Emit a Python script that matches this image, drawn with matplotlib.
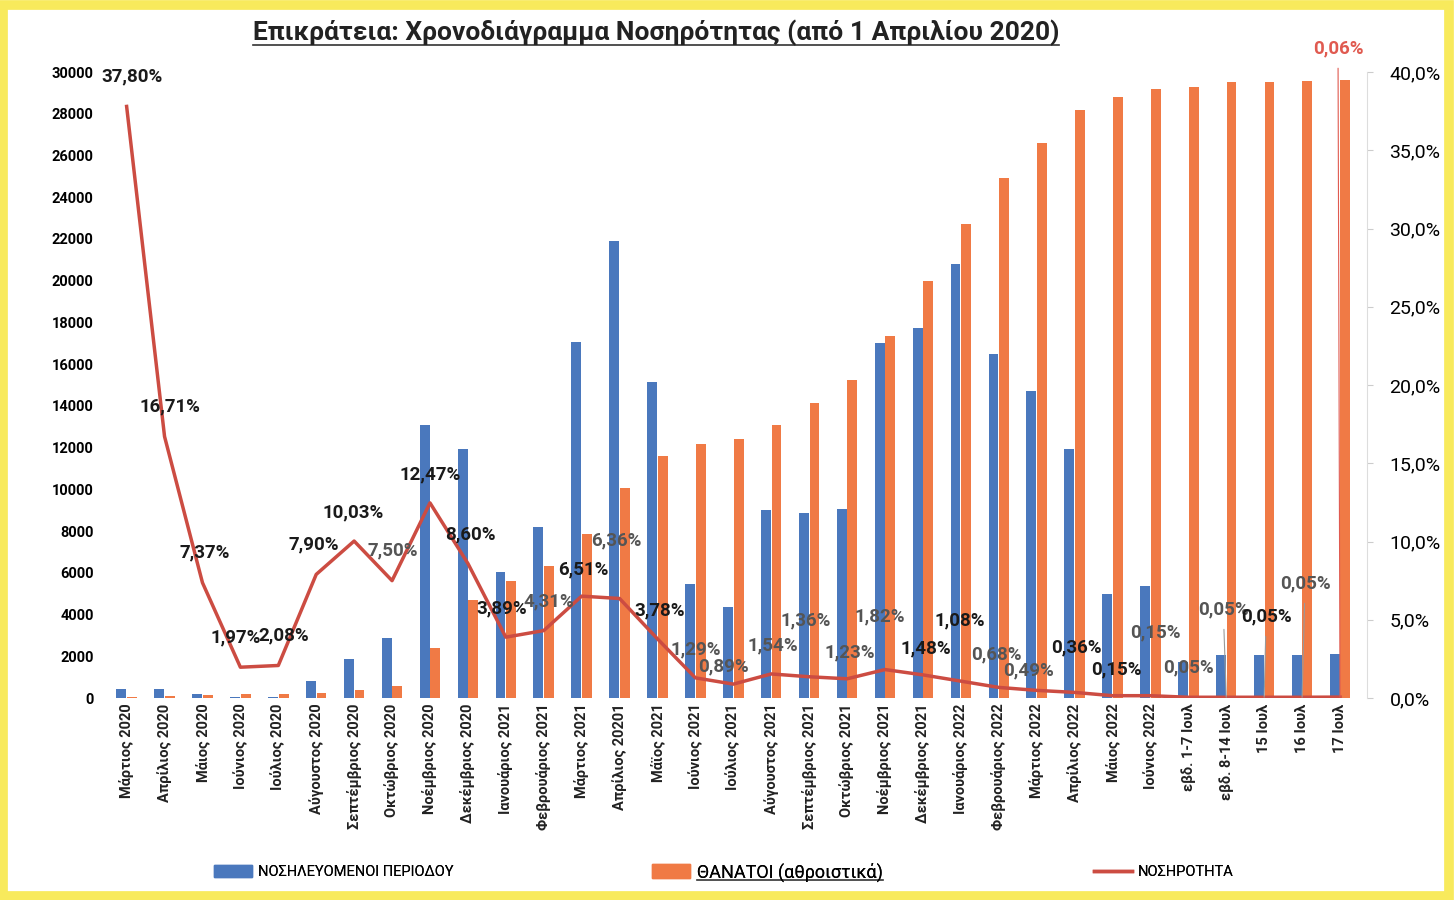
import matplotlib.pyplot as plt
import numpy as np
from matplotlib.patches import Patch, Rectangle
from matplotlib.lines import Line2D

# categories (x axis)
months = ['Μάρτιος 2020', 'Απρίλιος 2020', 'Μάιος 2020', 'Ιούνιος 2020', 'Ιούλιος 2020',
          'Αύγουστος 2020', 'Σεπτέμβριος 2020', 'Οκτώβριος 2020', 'Νοέμβριος 2020',
          'Δεκέμβριος 2020', 'Ιανουάριος 2021', 'Φεβρουάριος 2021', 'Μάρτιος 2021',
          'Απρίλιος 20201', 'Μάϊος 2021', 'Ιούνιος 2021', 'Ιούλιος 2021', 'Αύγουστος 2021',
          'Σεπτέμβριος 2021', 'Οκτώβριος 2021', 'Νοέμβριος 2021', 'Δεκέμβριος 2021',
          'Ιανουάριος 2022', 'Φεβρουάριος 2022', 'Μάρτιος 2022', 'Απρίλιος 2022',
          'Μάιος 2022', 'Ιούνιος 2022', 'εβδ. 1-7 Ιουλ', 'εβδ. 8-14 Ιουλ',
          '15 Ιουλ', '16 Ιουλ', '17 Ιουλ']

# hospitalised in period (left axis)
hospitalised = [450, 430, 200, 30, 30, 800, 1850, 2900, 13100, 11930, 6040, 8190,
                17060, 21900, 15140, 5450, 4350, 9000, 8870, 9050, 17000, 17750,
                20800, 16480, 14700, 11930, 4980, 5370, 1750, 2050, 2050, 2050, 2100]

# deaths, cumulative (left axis)
deaths = [60, 110, 150, 190, 200, 240, 400, 600, 2400, 4700, 5600, 6320,
          7860, 10060, 11600, 12170, 12410, 13080, 14150, 15250, 17350, 20000,
          22700, 24900, 26600, 28200, 28800, 29200, 29300, 29500, 29500, 29550, 29600]

# morbidity rate in % (right axis)
rate = [37.80, 16.71, 7.37, 1.97, 2.08, 7.90, 10.03, 7.50, 12.47, 8.60, 3.89, 4.31,
        6.51, 6.36, 3.78, 1.29, 0.89, 1.54, 1.36, 1.23, 1.82, 1.48, 1.08, 0.68,
        0.49, 0.36, 0.15, 0.15, 0.05, 0.05, 0.05, 0.05, 0.06]

# label offsets (pixels) and tone, as placed in the original
lab_dx = [5, 5, 2, -5, 5, -2, -1, 1, 0, 2, -4, 5, 2, -3, 2, 0, -10, 2, -3, 3, -5, 3,
          -1, -2, -8, 2, 4, 5, 0, -3, 2, 3, -2]
lab_dy = [30, 30, 30, 30, 30, 30, 29, 30, 28, 29, 29, 29, 27, 58, 28, 28, 18, 28, 56,
          26, 53, 26, 61, 33, 20, 45, 26, 63, 30, 88, 81, 114, 649]
lab_grey = [0, 0, 0, 0, 0, 0, 0, 1, 0, 0, 0, 1, 0, 1, 0, 1, 1, 1, 1, 1, 1, 0, 0, 1,
            1, 0, 0, 1, 1, 1, 0, 1, 0]

BLUE = '#4a78bd'
ORANGE = '#f07a45'
RED = '#cc4c42'

plt.rcParams['font.family'] = ['Roboto', 'DejaVu Sans']

fig = plt.figure(figsize=(14.55, 9), dpi=100)
ax = fig.add_axes([0.074, 0.2244, 0.86, 0.6956])
ax2 = ax.twinx()

x = np.arange(len(months))
w = 0.26
ax.bar(x - 0.14, hospitalised, w, color=BLUE, zorder=2)
ax.bar(x + 0.14, deaths, w, color=ORANGE, zorder=2)

ax.set_xlim(-0.5, len(months) - 0.5)
ax.set_ylim(0, 30000)
ax.set_yticks(np.arange(0, 30001, 2000))
ax.set_yticklabels([str(v) for v in range(0, 30001, 2000)], fontsize=10.5, fontweight='bold')
ax.set_xticks(x)
ax.set_xticklabels(months, rotation=90, fontsize=10.5, fontweight='bold', color='#222222')
ax.tick_params(axis='x', length=0, pad=4)
ax.tick_params(axis='y', length=0, pad=10)

rate_frac = [r / 100 for r in rate]
ax2.plot(x, rate_frac, color=RED, lw=2.5, zorder=3)
ax2.set_ylim(0, 0.40)
ax2.set_yticks(np.arange(0, 0.401, 0.05))
ax2.set_yticklabels([('%.1f%%' % (v * 100)).replace('.', ',') for v in np.arange(0, 0.401, 0.05)])
ax2.tick_params(axis='y', length=4, color='#cccccc', pad=12, labelsize=14)
for t in ax2.get_yticklabels():
    t.set_fontweight('bold')

for a in (ax, ax2):
    for s in a.spines.values():
        s.set_visible(False)
ax2.spines['right'].set_visible(True)
ax2.spines['right'].set_color('#dddddd')
ax2.spines['right'].set_position(('outward', 6))

# data labels of the rate line
for i, r in enumerate(rate):
    txt = ('%.2f%%' % r).replace('.', ',')
    dx = lab_dx[i] * 0.72
    dy = lab_dy[i] * 0.72
    if i == len(rate) - 1:
        col = '#e05a50'
    elif lab_grey[i]:
        col = '#555555'
    else:
        col = '#1a1a1a'
    leader = dict(arrowstyle='-', color=col if i == len(rate) - 1 else '#999999', lw=0.8,
                  shrinkA=6, shrinkB=0) if lab_dy[i] > 75 else None
    ax2.annotate(txt, (x[i], rate_frac[i]), xytext=(dx, dy), textcoords='offset points',
                 ha='center', va='center', fontsize=13.5, fontweight='bold', color=col,
                 arrowprops=leader, zorder=5)

# title
title = fig.text(0.451, 0.963, 'Επικράτεια: Χρονοδιάγραμμα Νοσηρότητας (από 1 Απριλίου 2020)',
                 ha='center', va='center', fontsize=19, fontweight='bold', color='#222222')

# legend, three separate entries spread along the bottom
h1 = Patch(color=BLUE)
h2 = Patch(color=ORANGE)
h3 = Line2D([], [], color=RED, lw=2.5)
specs = [(h1, 'ΝΟΣΗΛΕΥΟΜΕΝΟΙ ΠΕΡΙΟΔΟΥ', 0.138, 10.5, 2.6),
         (h2, 'ΘΑΝΑΤΟΙ (αθροιστικά)', 0.437, 13, 2.1),
         (h3, 'ΝΟΣΗΡΟΤΗΤΑ', 0.743, 10.5, 2.6)]
legends = []
for h, lab, xa, fs, hl in specs:
    lg = fig.legend([h], [lab], loc='center left', bbox_to_anchor=(xa, 0.031), frameon=False,
                    prop={'size': fs}, handlelength=hl, handleheight=0.8,
                    handletextpad=0.4)
    fig.add_artist(lg)
    legends.append(lg)

# underline the title and the deaths legend text
fig.canvas.draw()
r = fig.canvas.get_renderer()
inv = fig.transFigure.inverted()
for t in (title, legends[1].get_texts()[0]):
    bb = t.get_window_extent(r).transformed(inv)
    fig.add_artist(Line2D([bb.x0, bb.x1], [bb.y0 + 0.002, bb.y0 + 0.002], color='#333333',
                          lw=1.2, transform=fig.transFigure))

# yellow highlighter frame of the scan
fig.add_artist(Rectangle((0.002, 0.004), 0.994, 0.99, transform=fig.transFigure, fill=False,
                         edgecolor='#f8ea5c', lw=7))

fig.savefig('out.png', dpi=100)
